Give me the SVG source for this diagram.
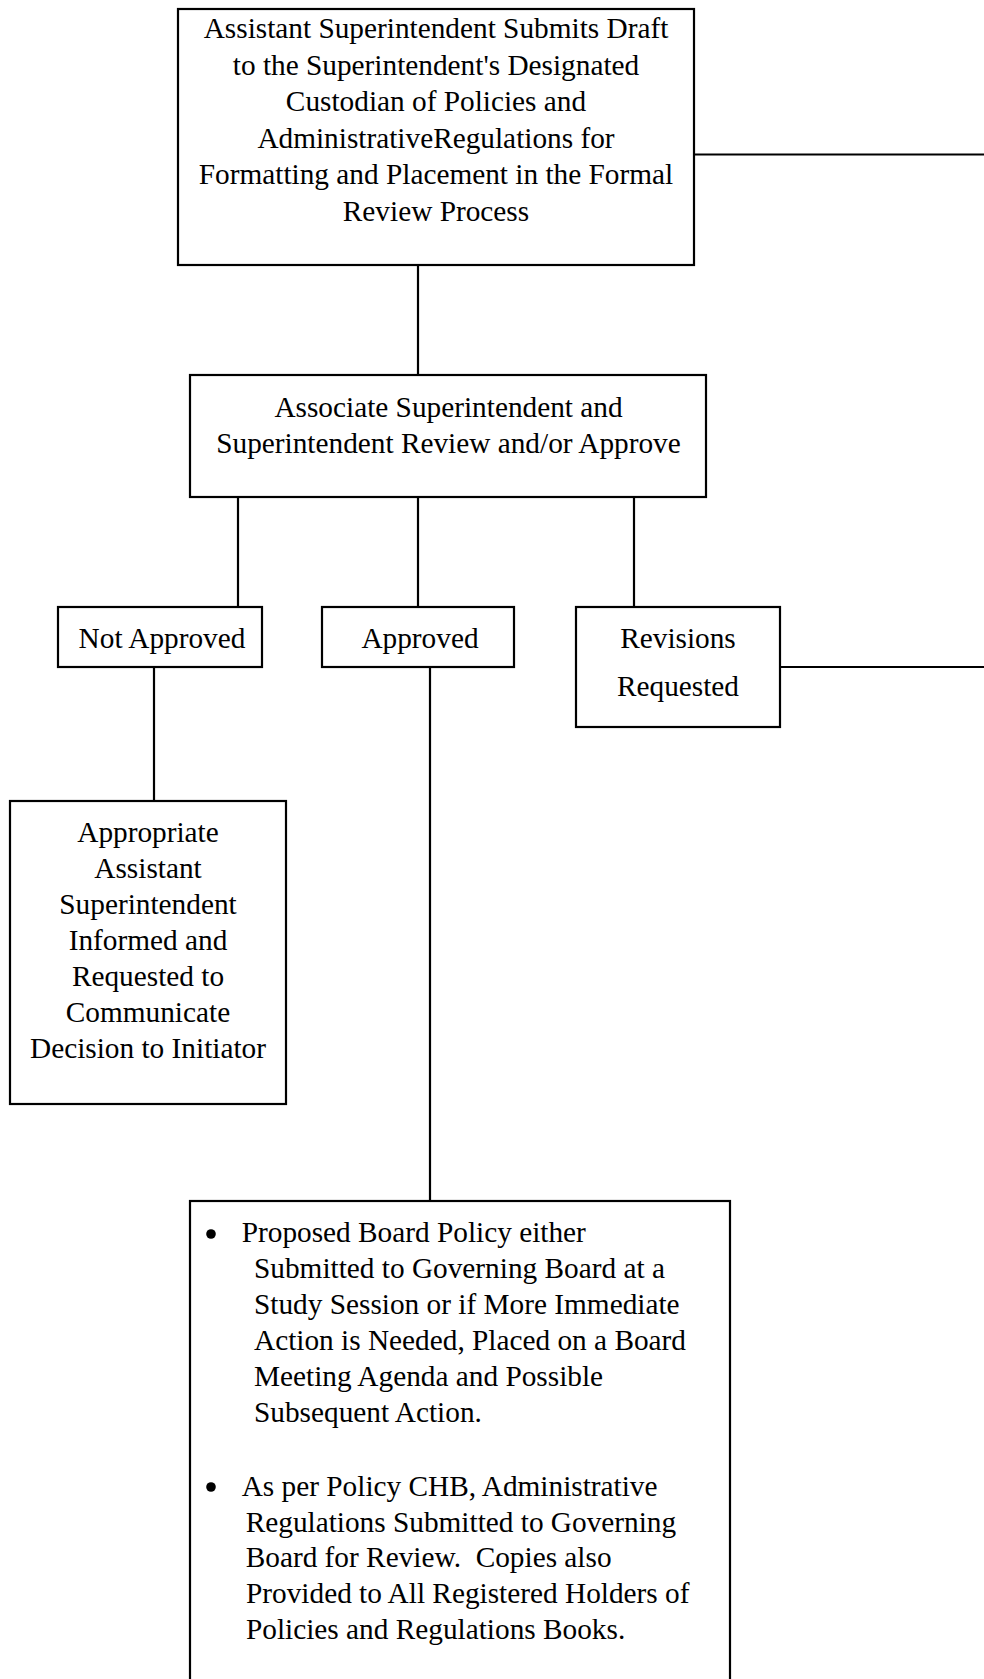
<svg xmlns="http://www.w3.org/2000/svg" width="984" height="1679" viewBox="0 0 984 1679">
<style>
.box{fill:#fff;stroke:#000;stroke-width:2.2}
.ln{stroke:#000;stroke-width:2.2;fill:none}
text{font-family:"Liberation Serif","Times New Roman",serif;font-size:29.3px;fill:#000}
.c{text-anchor:middle}
.pre{white-space:pre}
</style>
<rect width="984" height="1679" fill="#fff"/>
<g id="connectors">
<line class="ln" x1="694" y1="154.5" x2="984" y2="154.5"/>
<line class="ln" x1="418" y1="265" x2="418" y2="375"/>
<line class="ln" x1="238" y1="497" x2="238" y2="607"/>
<line class="ln" x1="418" y1="497" x2="418" y2="607"/>
<line class="ln" x1="634" y1="497" x2="634" y2="607"/>
<line class="ln" x1="154" y1="667" x2="154" y2="801"/>
<line class="ln" x1="430" y1="667" x2="430" y2="1201"/>
<line class="ln" x1="780" y1="667" x2="984" y2="667"/>
</g>
<g id="node-submit">
<rect class="box" x="178" y="9" width="516" height="256"/>
<text class="c" x="436" y="38">Assistant Superintendent Submits Draft</text>
<text class="c" x="436" y="74.5">to the Superintendent's Designated</text>
<text class="c" x="436" y="111">Custodian of Policies and</text>
<text class="c" x="436" y="147.5">AdministrativeRegulations for</text>
<text class="c" x="436" y="184">Formatting and Placement in the Formal</text>
<text class="c" x="436" y="220.5">Review Process</text>
</g>
<g id="node-review">
<rect class="box" x="190" y="375" width="516" height="122"/>
<text class="c" x="448.5" y="416.5">Associate Superintendent and</text>
<text class="c" x="448.5" y="452.5">Superintendent Review and/or Approve</text>
</g>
<g id="node-not-approved">
<rect class="box" x="58" y="607" width="204" height="60"/>
<text class="c" x="162" y="648">Not Approved</text>
</g>
<g id="node-approved">
<rect class="box" x="322" y="607" width="192" height="60"/>
<text class="c" x="420" y="648">Approved</text>
</g>
<g id="node-revisions">
<rect class="box" x="576" y="607" width="204" height="120"/>
<text class="c" x="678" y="648">Revisions</text>
<text class="c" x="678" y="695.5">Requested</text>
</g>
<g id="node-inform">
<rect class="box" x="10" y="801" width="276" height="303"/>
<text class="c" x="148" y="841.5">Appropriate</text>
<text class="c" x="148" y="878">Assistant</text>
<text class="c" x="148" y="914">Superintendent</text>
<text class="c" x="148" y="950">Informed and</text>
<text class="c" x="148" y="986">Requested to</text>
<text class="c" x="148" y="1022">Communicate</text>
<text class="c" x="148" y="1057.5">Decision to Initiator</text>
</g>
<g id="node-board">
<rect class="box" x="190" y="1201" width="540" height="520"/>
<circle cx="211" cy="1234" r="4.8" fill="#000"/>
<text x="241.7" y="1242">Proposed Board Policy either</text>
<text x="254" y="1278">Submitted to Governing Board at a</text>
<text x="254" y="1314">Study Session or if More Immediate</text>
<text x="254" y="1350">Action is Needed, Placed on a Board</text>
<text x="254" y="1386">Meeting Agenda and Possible</text>
<text x="254" y="1421.5">Subsequent Action.</text>
<circle cx="211" cy="1487" r="4.8" fill="#000"/>
<text x="241.7" y="1495.5">As per Policy CHB, Administrative</text>
<text x="245.7" y="1531.5">Regulations Submitted to Governing</text>
<text class="pre" x="245.7" y="1567">Board for Review.  Copies also</text>
<text x="246" y="1603">Provided to All Registered Holders of</text>
<text x="246" y="1639">Policies and Regulations Books.</text>
</g>
</svg>
